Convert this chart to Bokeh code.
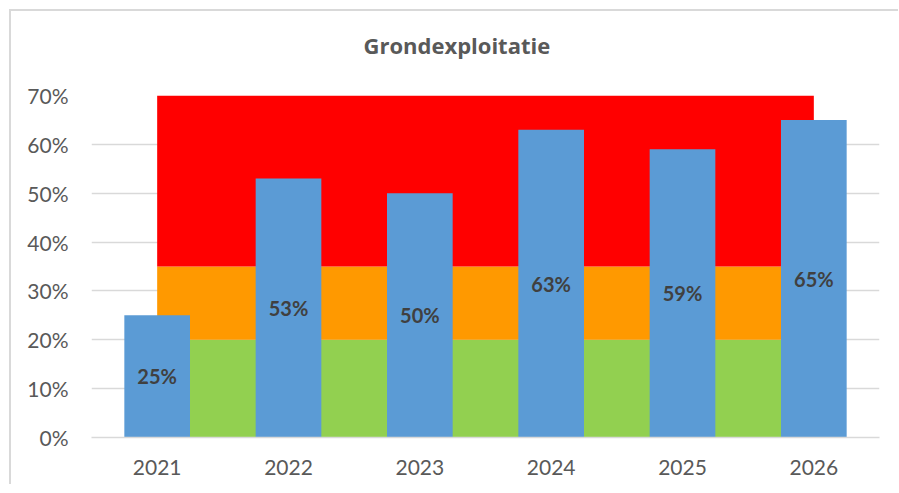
from bokeh.plotting import figure
from bokeh.models import (ColumnDataSource, Range1d, FixedTicker, NumeralTickFormatter,
                          Title)
from bokeh.embed import file_html
from bokeh.resources import INLINE
from bokeh.core.properties import value

# ---- data ----
years = ["2021", "2022", "2023", "2024", "2025", "2026"]
realisatie = [0.25, 0.53, 0.50, 0.63, 0.59, 0.65]
band_groen = [0.20, 0.20, 0.20, 0.20, 0.20, 0.20]
band_oranje = [0.15, 0.15, 0.15, 0.15, 0.15, 0.15]
band_rood = [0.35, 0.35, 0.35, 0.35, 0.35, 0.35]
y_ticks = [0.0, 0.1, 0.2, 0.3, 0.4, 0.5, 0.6, 0.7]
title_text = "Grondexploitatie"

FONT = "Lato"
GREY = "#595959"

src_area = ColumnDataSource(dict(year=years, groen=band_groen, oranje=band_oranje, rood=band_rood))
src_bar = ColumnDataSource(dict(
    year=years,
    top=realisatie,
    mid=[v / 2 for v in realisatie],
    label=[f"{round(v * 100)}%" for v in realisatie],
))

p = figure(x_range=years, y_range=Range1d(0, 0.7), width=889, height=475,
           output_backend="svg", toolbar_location=None,
           min_border_left=80, min_border_right=21, min_border_top=84, min_border_bottom=49)

p.styles = {"border-left": "2px solid #d9d9d9", "border-top": "2px solid #d9d9d9",
            "overflow": "hidden",
            "margin-left": "9px", "margin-top": "9px"}

p.varea_stack(["groen", "oranje", "rood"], x="year", source=src_area,
              color=["#92D050", "#FF9900", "#FF0000"])

p.vbar(x="year", top="top", width=0.5, source=src_bar, fill_color="#5B9BD5", line_color=None)

p.text(x="year", y="mid", text="label", source=src_bar, text_align="center",
       text_baseline="middle", text_font=value(FONT), text_font_style="bold",
       text_font_size="20px", text_color="#404040")

# trailing blank line lifts the title away from the plot area
t = Title(text=title_text + "\n ", align="left", offset=272, standoff=11,
          text_font="Open Sans", text_font_size="22px", text_font_style="bold",
          text_color=GREY)
p.add_layout(t, "above")

p.outline_line_color = None
p.background_fill_color = "white"
p.border_fill_color = "white"

p.xgrid.grid_line_color = None
p.ygrid.grid_line_color = "#D9D9D9"
p.ygrid.grid_line_width = 1.5
p.ygrid.ticker = FixedTicker(ticks=y_ticks)

p.yaxis.ticker = FixedTicker(ticks=y_ticks)
p.yaxis.formatter = NumeralTickFormatter(format="0%")
p.yaxis.axis_line_color = None
p.yaxis.major_tick_line_color = None
p.yaxis.minor_tick_line_color = None
p.yaxis.major_tick_out = 0
p.yaxis.major_label_standoff = 23

p.xaxis.axis_line_color = "#D9D9D9"
p.xaxis.axis_line_width = 1.5
p.xaxis.major_tick_line_color = None
p.xaxis.major_tick_out = 0
p.xaxis.major_label_standoff = 22

for ax in (p.xaxis[0], p.yaxis[0]):
    ax.major_label_text_font = FONT
    ax.major_label_text_font_size = "21px"
    ax.major_label_text_color = GREY

p.x_range.range_padding = 0

open("out.html", "w").write(file_html(p, INLINE))
